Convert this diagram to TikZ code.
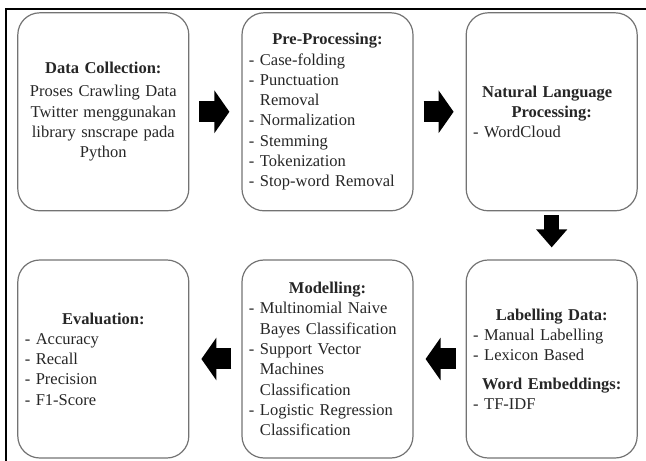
\documentclass[tikz,border=0pt]{standalone}
\usepackage{fontspec}
\setmainfont{Liberation Serif}
\usepackage{tikz}
\usetikzlibrary{matrix,arrows.meta}
\newcommand{\stagehead}[1]{{\centering\bfseries #1\par}}
\newcommand{\stageitem}[1]{{\raggedright\hangindent=11pt\hangafter=1\noindent\makebox[11pt][l]{-}#1\par}}
\newcommand{\stageline}[1]{{\centering #1\par}}

\begin{document}
\begin{tikzpicture}[x=1pt,y=1pt,
    stage/.style={draw=black!55, line width=1.2pt, rounded corners=22pt, text=black!85,
        text width=157pt, inner xsep=7pt, minimum width=171pt, minimum height=198pt,
        anchor=center, font=\fontsize{16.5pt}{20.3pt}\selectfont},
    blockarrow/.style={line width=21pt, -{Triangle[length=15pt,width=42pt]}, shorten <=10pt, shorten >=12pt},
    downarrow/.style={line width=15pt, -{Triangle[length=18pt,width=30pt]}, shorten <=4pt, shorten >=12pt}]
    \useasboundingbox (0,0) rectangle (646,461);
    \draw[line width=1.5pt] (6,0) |- (646,452);
    \matrix(flow)[matrix of nodes, nodes={stage}, column sep=52pt, row sep=48pt,
        inner sep=0pt, anchor=north west] at (17,449){
        \stagehead{Data Collection:}\vspace{3pt}\stageline{Proses Crawling Data}\stageline{Twitter menggunakan}\stageline{library snscrape pada}\stageline{Python}
        & \stagehead{Pre-Processing:}\stageitem{Case-folding}\stageitem{Punctuation\newline Removal}\stageitem{Normalization}\stageitem{Stemming}\stageitem{Tokenization}\stageitem{Stop-word Removal}
        & \stagehead{Natural Language\newline Processing:}\stageitem{WordCloud}\\
        \stagehead{Evaluation:}\stageitem{Accuracy}\stageitem{Recall}\stageitem{Precision}\stageitem{F1-Score}
        & \stagehead{Modelling:}\stageitem{Multinomial Naive\newline Bayes Classification}\stageitem{Support Vector\newline Machines\newline Classification}\stageitem{Logistic Regression\newline Classification}
        & \stagehead{Labelling Data:}\stageitem{Manual Labelling}\stageitem{Lexicon Based}\vspace{8pt}\stagehead{Word Embeddings:}\stageitem{TF-IDF}\\
    };
    \draw[blockarrow] (flow-1-1) -- (flow-1-2);
    \draw[blockarrow] (flow-1-2) -- (flow-1-3);
    \draw[downarrow] (flow-1-3) -- (flow-2-3);
    \draw[blockarrow] (flow-2-3) -- (flow-2-2);
    \draw[blockarrow] (flow-2-2) -- (flow-2-1);
\end{tikzpicture}
\end{document}
